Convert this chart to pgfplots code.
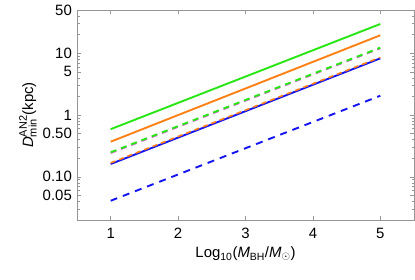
\documentclass[border=0pt]{standalone}
\usepackage{pgfplots}
\pgfplotsset{compat=1.18}
\usepackage{fontspec}
\setmainfont{Liberation Sans}
\definecolor{mgreen}{RGB}{40,230,20}
\definecolor{morange}{RGB}{255,128,20}
\definecolor{mblue}{RGB}{20,20,240}
\definecolor{mpink}{RGB}{220,100,220}
\definecolor{frame}{RGB}{150,150,150}
\begin{document}
\fontsize{15}{18}\selectfont
\begin{tikzpicture}[x=1bp,y=1bp]
\begin{axis}[name=ax,
  scale only axis, width=337bp, height=210bp,
  xmin=0.5, xmax=5.5, ymode=log, ymin=0.02, ymax=50,
  axis line style={frame, line width=0.6pt},
  tick style={frame, line width=0.5pt},
  tick align=inside,
  major tick length=4bp, minor tick length=2.5bp,
  xtick={1,2,3,4,5}, xticklabels={1,2,3,4,5},
  ytick={0.05,0.1,0.5,1,5,10,50},
  yticklabels={0.05,0.10,0.50,1,5,10,50},
  minor ytick={0.02,0.03,0.04,0.06,0.07,0.08,0.09,0.2,0.3,0.4,0.6,0.7,0.8,0.9,2,3,4,6,7,8,9,20,30,40},
  /pgf/number format/assume math mode=true,
  ticklabel style={font=\fontsize{15}{18}\selectfont, text=black},
  xticklabel style={yshift=-3bp},
  xlabel={Log\textsubscript{10}(\textit{M}\textsubscript{BH}/\textit{M}\textsubscript{$\odot$})},
  ylabel={$\mbox{\textit{D}}^{\mbox{\fontsize{11}{12}\selectfont AN2}}_{\mbox{\fontsize{11}{12}\selectfont min}}$(kpc)},
  xlabel style={font=\fontsize{15}{18}\selectfont, yshift=2bp},
  ylabel style={font=\fontsize{15}{18}\selectfont, yshift=-4bp},
  clip=true,
]
\addplot[mpink, line width=1.4pt, dash pattern=on 6bp off 5bp] coordinates {(1,0.240) (5,11.9)};
\addplot[mgreen, line width=1.9pt, dash pattern=on 6bp off 5bp] coordinates {(1,0.249) (5,12.3)};
\addplot[mblue, line width=1.9pt] coordinates {(1,0.161) (5,8.26)};
\addplot[morange, line width=1.6pt, dash pattern=on 5bp off 4bp] coordinates {(1,0.168) (5,8.58)};
\addplot[mblue, line width=1.9pt, dash pattern=on 7bp off 6bp] coordinates {(1,0.041) (5,2.05)};
\addplot[morange, line width=1.9pt] coordinates {(1,0.37) (5,19.5)};
\addplot[mgreen, line width=1.9pt] coordinates {(1,0.59) (5,29.7)};
\end{axis}
\pgfresetboundingbox
\useasboundingbox ([shift={(-77bp,-59bp)}]ax.south west) rectangle ([shift={(1bp,10bp)}]ax.north east);
\end{tikzpicture}
\end{document}
